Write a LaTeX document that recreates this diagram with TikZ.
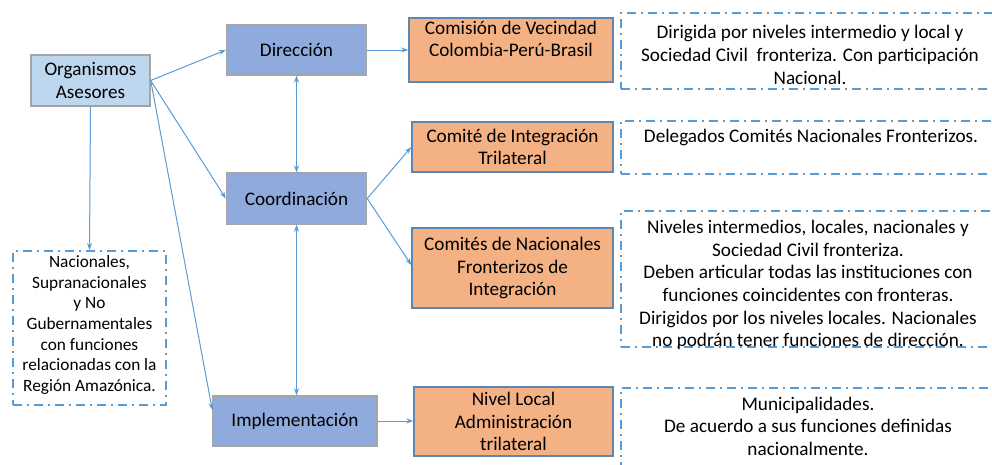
\documentclass[tikz,border=0pt]{standalone}
\usepackage{fontspec}
\setmainfont{Carlito}
\usetikzlibrary{arrows.meta}
\definecolor{asesor}{HTML}{BDD7EE}
\definecolor{organo}{HTML}{8FAADC}
\definecolor{naranja}{HTML}{F4B183}
\definecolor{linea}{HTML}{5B9BD5}
\definecolor{borde}{HTML}{A5A5A5}
\definecolor{bordenar}{HTML}{5F86AE}

\begin{document}
\begin{tikzpicture}[x=1pt,y=-1pt,>={Stealth[length=7pt,width=5pt]},
caja/.style={rectangle,draw=borde,line width=1.4pt,align=center,inner sep=0pt,
  font=\fontsize{19.2}{22.5}\selectfont},
organo/.style={caja,fill=organo},
instancia/.style={caja,fill=naranja,draw=bordenar},
nota/.style={rectangle,draw=linea,line width=1.8pt,dash pattern=on 9pt off 5pt on 2pt off 5pt},
notatexto/.style={align=center,inner sep=0pt,font=\fontsize{19.2}{22.6}\selectfont}
]

\useasboundingbox (0,0) rectangle (992,464);
\clip (0,0) rectangle (992,464);

\node[caja,fill=asesor,minimum width=119pt,minimum height=51pt](ases) at (90.5,80.5){Organismos\\Asesores};

\node[organo,minimum width=140pt,minimum height=50pt](dir) at (296.5,50){Dirección};
\node[organo,minimum width=140pt,minimum height=51pt](coord) at (296.5,198.5){Coordinación};
\node[organo,minimum width=164pt,minimum height=50pt](impl) at (295,421){Implementación};

\node[instancia,minimum width=204pt,minimum height=64pt](comision) at (511,50){Comisión de Vecindad\\Colombia-Perú-Brasil\\\mbox{}};
\node[instancia,minimum width=201pt,minimum height=50pt](integ) at (512.5,147){Comité de Integración\\Trilateral};
\node[instancia,minimum width=201pt,minimum height=80pt](nacio) at (512.5,268){Comités de Nacionales\\Fronterizos de\\Integración};
\node[instancia,minimum width=199pt,minimum height=69pt](local) at (513.5,421.5){Nivel Local\\Administración\\trilateral};

% recuadros de notas
\node[nota,minimum width=153pt,minimum height=154pt](notaases) at (89.5,328){};
\node[notatexto,font=\fontsize{17.3}{20.6}\selectfont] at (89.5,325){Nacionales,\\Supranacionales\\y No\\Gubernamentales\\con funciones\\relacionadas con la\\Región Amazónica.};

\node[nota,minimum width=379pt,minimum height=76pt](nota1) at (810.5,51){};
\node[notatexto] at (810,55){Dirigida por niveles intermedio y local y\\Sociedad Civil\ \ fronteriza. Con participación\\Nacional.};

\node[nota,minimum width=379pt,minimum height=53pt](nota2) at (810.5,147.5){};
\node[notatexto] at (811,137){Delegados Comités Nacionales Fronterizos.};

\node[nota,minimum width=379pt,minimum height=136pt](nota3) at (810.5,279){};
\node[notatexto] at (808,285){Niveles intermedios, locales, nacionales y\\Sociedad Civil fronteriza.\\Deben articular todas las instituciones con\\funciones coincidentes con fronteras.\\Dirigidos por los niveles locales. Nacionales\\no podrán tener funciones de dirección.};

\node[nota,minimum width=379pt,minimum height=92pt](nota4) at (810.5,434){};
\node[notatexto] at (808,426){Municipalidades.\\De acuerdo a sus funciones definidas\\nacionalmente.};

\begin{scope}[->, draw=linea, line width=1pt]
\draw (ases.east)--(dir.west);
\draw (ases.east)--(coord.west);
\draw (ases.east)--([yshift=11pt]impl.west);
\draw (ases.south)--(notaases.north);
\draw[<->] (dir.south)--(coord.north);
\draw[<->] (coord.south)--(coord.south |- impl.north);
\draw (dir.east)--(comision.west);
\draw (coord.east)--(integ.west);
\draw (coord.east)--([yshift=3pt]nacio.west);
\draw (impl.east)--(impl.east -| local.west);
\end{scope}

\end{tikzpicture}
\end{document}
